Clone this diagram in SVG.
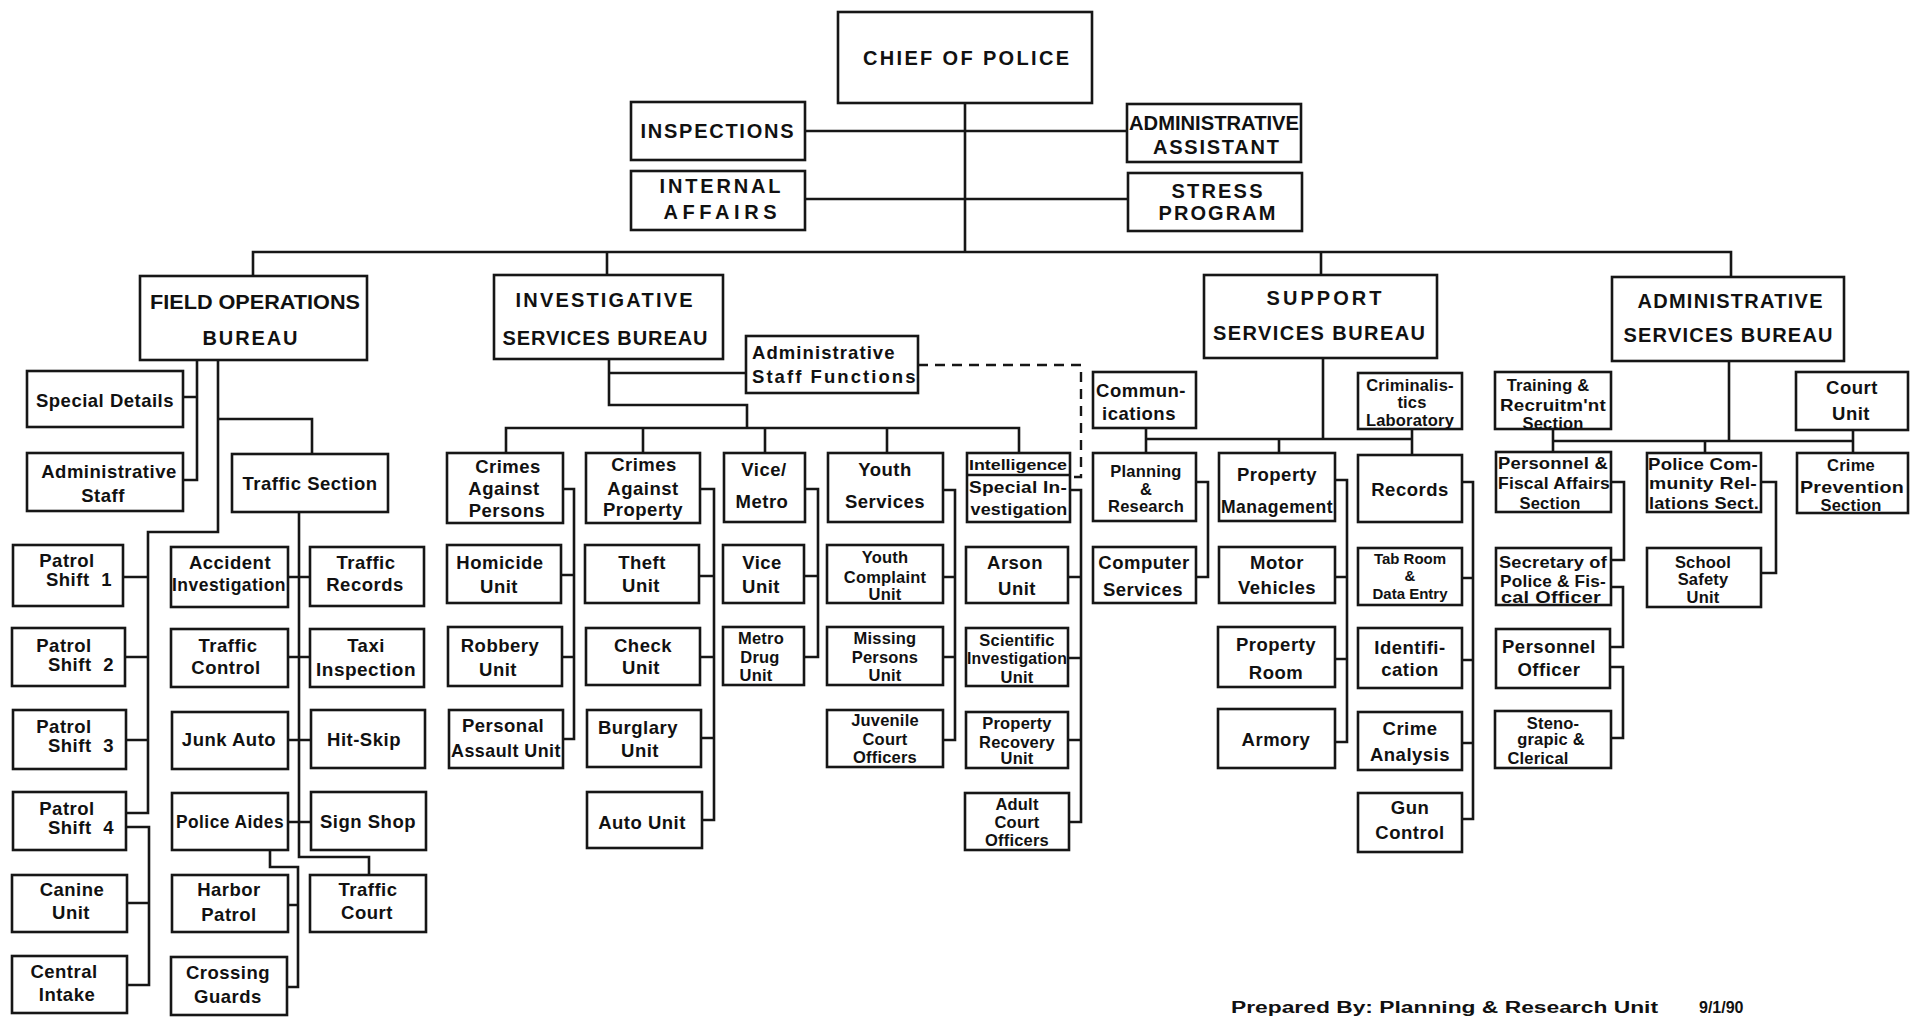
<svg xmlns="http://www.w3.org/2000/svg" width="1916" height="1017" viewBox="0 0 1916 1017">
<style>
.b{fill:#fff;stroke:#161616;stroke-width:2.6}
.c{fill:none;stroke:#161616;stroke-width:2.6}
.d{fill:none;stroke:#161616;stroke-width:2.4;stroke-dasharray:10 7}
text{font-family:"Liberation Sans",Arial,sans-serif;font-weight:bold;fill:#111;text-anchor:middle}
.H{font-size:20px}
.F{font-size:16px}
.t{font-size:18.5px;letter-spacing:0.5px}
.s{font-size:16.5px;letter-spacing:0.2px}
.x{font-size:15px}
.w{word-spacing:6px}
.l{text-anchor:start}
</style>
<rect x="0" y="0" width="1916" height="1017" fill="#fff"/>

<g id="connectors">
<path class="c" d="M965,103V252M805,131H1127M805,199H1128M253,275V252H1731V277M607,252V275M1321,252V275"/>
<path class="c" d="M197,360V480H183M183,397H197M218,360V532H148V813H126M123,577H148M125,657H148M126,740H148M218,419H312V454M126,827H149V985H127M127,903H149"/>
<path class="c" d="M299,512V857H369V875M288,577H310M288,657H310M288,740H311M288,822H311M270,850V867H298V987H287M288,905H298"/>
<path class="c" d="M609,359V405H747V428M609,373H746M506,453V428H1019V453M643,428V453M765,428V453M887,428V453"/>
<path class="d" d="M918,365H1081V477H1070"/>
<path class="c" d="M563,489H574V739H563M561,575H574M562,657H574M700,489H714V820H702M699,576H714M700,657H714M701,738H714M805,489H818V657H804M804,576H818M943,490H955V740H943M943,577H955M943,657H955M1070,490H1081V822H1069M1068,577H1081M1068,658H1081M1068,740H1081"/>
<path class="c" d="M1323,358V439M1146,428V453M1146,439H1412M1279,439V453M1412,429V455M1196,482H1208V577H1196M1335,480H1347V742H1335M1335,577H1347M1335,659H1347M1462,482H1473V819H1462M1462,578H1473M1462,660H1473M1462,743H1473"/>
<path class="c" d="M1729,361V441M1553,429V452M1553,441H1853M1853,430V453M1705,441V453M1611,482H1624V560H1611M1611,587H1623V647H1610M1610,667H1623V738H1611M1761,482H1776V573H1761"/>
</g>

<g id="chief"><rect class="b" x="838" y="12" width="254" height="91"/><text class="H" x="966" y="65" textLength="206" lengthAdjust="spacing">CHIEF OF POLICE</text></g>
<g id="inspections"><rect class="b" x="631" y="102" width="174" height="58"/><text class="H" x="717" y="138" textLength="153" lengthAdjust="spacing">INSPECTIONS</text></g>
<g id="internal-affairs"><rect class="b" x="631" y="171" width="174" height="59"/><text class="H" x="720" y="193" textLength="121" lengthAdjust="spacing">INTERNAL</text><text class="H" x="720" y="219" textLength="113" lengthAdjust="spacing">AFFAIRS</text></g>
<g id="admin-assistant"><rect class="b" x="1127" y="104" width="174" height="58"/><text class="H" x="1214" y="130" textLength="170" lengthAdjust="spacingAndGlyphs">ADMINISTRATIVE</text><text class="H" x="1216" y="154" textLength="126" lengthAdjust="spacing">ASSISTANT</text></g>
<g id="stress-program"><rect class="b" x="1128" y="173" width="174" height="58"/><text class="H" x="1217" y="198" textLength="91" lengthAdjust="spacing">STRESS</text><text class="H" x="1217" y="220" textLength="117" lengthAdjust="spacing">PROGRAM</text></g>

<g id="field-operations"><rect class="b" x="140" y="276" width="227" height="84"/><text class="H" x="255" y="309" textLength="210" lengthAdjust="spacingAndGlyphs">FIELD OPERATIONS</text><text class="H" x="250" y="345" textLength="95" lengthAdjust="spacing">BUREAU</text></g>
<g id="investigative"><rect class="b" x="494" y="275" width="229" height="84"/><text class="H" x="604" y="307" textLength="177" lengthAdjust="spacing">INVESTIGATIVE</text><text class="H" x="605" y="345" textLength="205" lengthAdjust="spacing">SERVICES BUREAU</text></g>
<g id="support"><rect class="b" x="1204" y="275" width="233" height="83"/><text class="H" x="1324" y="305" textLength="115" lengthAdjust="spacing">SUPPORT</text><text class="H" x="1319" y="340" textLength="212" lengthAdjust="spacing">SERVICES BUREAU</text></g>
<g id="admin-services"><rect class="b" x="1612" y="277" width="232" height="84"/><text class="H" x="1730" y="308" textLength="185" lengthAdjust="spacing">ADMINISTRATIVE</text><text class="H" x="1728" y="342" textLength="209" lengthAdjust="spacing">SERVICES BUREAU</text></g>

<g id="special-details"><rect class="b" x="27" y="371" width="156" height="56"/><text class="t" x="105" y="407">Special Details</text></g>
<g id="administrative-staff"><rect class="b" x="27" y="453" width="156" height="58"/><text class="t" x="109" y="478">Administrative</text><text class="t" x="103" y="502">Staff</text></g>
<g id="traffic-section"><rect class="b" x="232" y="454" width="156" height="58"/><text class="t" x="310" y="490">Traffic Section</text></g>
<g id="patrol-1"><rect class="b" x="13" y="545" width="110" height="61"/><text class="t" x="67" y="567">Patrol</text><text class="t w" x="79" y="586">Shift 1</text></g>
<g id="patrol-2"><rect class="b" x="12" y="628" width="113" height="58"/><text class="t" x="64" y="652">Patrol</text><text class="t w" x="81" y="671">Shift 2</text></g>
<g id="patrol-3"><rect class="b" x="13" y="710" width="113" height="59"/><text class="t" x="64" y="733">Patrol</text><text class="t w" x="81" y="752">Shift 3</text></g>
<g id="patrol-4"><rect class="b" x="13" y="792" width="113" height="58"/><text class="t" x="67" y="815">Patrol</text><text class="t w" x="81" y="834">Shift 4</text></g>
<g id="canine"><rect class="b" x="12" y="875" width="115" height="57"/><text class="t" x="72" y="896">Canine</text><text class="t" x="71" y="919">Unit</text></g>
<g id="central-intake"><rect class="b" x="12" y="956" width="115" height="57"/><text class="t" x="64" y="978">Central</text><text class="t" x="67" y="1001">Intake</text></g>
<g id="accident"><rect class="b" x="171" y="547" width="117" height="60"/><text class="t" x="230" y="569">Accident</text><text class="t" x="229" y="591" textLength="114" lengthAdjust="spacingAndGlyphs">Investigation</text></g>
<g id="traffic-records"><rect class="b" x="310" y="547" width="114" height="59"/><text class="t" x="366" y="569">Traffic</text><text class="t" x="365" y="591">Records</text></g>
<g id="traffic-control"><rect class="b" x="171" y="629" width="117" height="58"/><text class="t" x="228" y="652">Traffic</text><text class="t" x="226" y="674">Control</text></g>
<g id="taxi"><rect class="b" x="310" y="629" width="114" height="58"/><text class="t" x="366" y="652">Taxi</text><text class="t" x="366" y="676" textLength="100" lengthAdjust="spacingAndGlyphs">Inspection</text></g>
<g id="junk-auto"><rect class="b" x="172" y="712" width="116" height="57"/><text class="t" x="229" y="746">Junk Auto</text></g>
<g id="hit-skip"><rect class="b" x="311" y="710" width="114" height="58"/><text class="t" x="364" y="746">Hit-Skip</text></g>
<g id="police-aides"><rect class="b" x="172" y="793" width="116" height="57"/><text class="t" x="230" y="828" textLength="108" lengthAdjust="spacingAndGlyphs">Police Aides</text></g>
<g id="sign-shop"><rect class="b" x="311" y="792" width="115" height="58"/><text class="t" x="368" y="828">Sign Shop</text></g>
<g id="harbor"><rect class="b" x="172" y="875" width="116" height="57"/><text class="t" x="229" y="896">Harbor</text><text class="t" x="229" y="921">Patrol</text></g>
<g id="crossing"><rect class="b" x="171" y="957" width="116" height="58"/><text class="t" x="228" y="979">Crossing</text><text class="t" x="228" y="1003">Guards</text></g>
<g id="traffic-court"><rect class="b" x="310" y="875" width="116" height="57"/><text class="t" x="368" y="896">Traffic</text><text class="t" x="367" y="919">Court</text></g>

<g id="admin-staff-functions"><rect class="b" x="746" y="336" width="172" height="57"/><text class="t l" x="752" y="359" textLength="143" lengthAdjust="spacing">Administrative</text><text class="t l" x="752" y="383" textLength="164" lengthAdjust="spacing">Staff Functions</text></g>
<g id="crimes-persons"><rect class="b" x="447" y="453" width="116" height="70"/><text class="t" x="508" y="473">Crimes</text><text class="t" x="504" y="495">Against</text><text class="t" x="507" y="517">Persons</text></g>
<g id="crimes-property"><rect class="b" x="586" y="453" width="114" height="70"/><text class="t" x="644" y="471">Crimes</text><text class="t" x="643" y="495">Against</text><text class="t" x="643" y="516">Property</text></g>
<g id="vice-metro"><rect class="b" x="724" y="453" width="81" height="69"/><text class="t" x="764" y="476">Vice/</text><text class="t" x="762" y="508">Metro</text></g>
<g id="youth-services"><rect class="b" x="828" y="453" width="115" height="69"/><text class="t" x="885" y="476">Youth</text><text class="t" x="885" y="508">Services</text></g>
<g id="intelligence"><rect class="b" x="967" y="453" width="103" height="69"/><line class="c" x1="967" y1="475" x2="1070" y2="475"/><text class="x" x="1018" y="470" textLength="98" lengthAdjust="spacingAndGlyphs">Intelligence</text><text class="s" x="1018" y="493" textLength="98" lengthAdjust="spacingAndGlyphs">Special In-</text><text class="s" x="1019" y="515" textLength="97" lengthAdjust="spacingAndGlyphs">vestigation</text></g>
<g id="homicide"><rect class="b" x="447" y="545" width="114" height="58"/><text class="t" x="500" y="569">Homicide</text><text class="t" x="499" y="593">Unit</text></g>
<g id="robbery"><rect class="b" x="448" y="627" width="114" height="59"/><text class="t" x="500" y="652">Robbery</text><text class="t" x="498" y="676">Unit</text></g>
<g id="personal-assault"><rect class="b" x="449" y="710" width="114" height="58"/><text class="t" x="503" y="732">Personal</text><text class="t" x="506" y="757" textLength="110" lengthAdjust="spacingAndGlyphs">Assault Unit</text></g>
<g id="theft"><rect class="b" x="585" y="545" width="114" height="58"/><text class="t" x="642" y="569">Theft</text><text class="t" x="641" y="592">Unit</text></g>
<g id="check"><rect class="b" x="586" y="628" width="114" height="57"/><text class="t" x="643" y="652">Check</text><text class="t" x="641" y="674">Unit</text></g>
<g id="burglary"><rect class="b" x="587" y="710" width="114" height="57"/><text class="t" x="638" y="734">Burglary</text><text class="t" x="640" y="757">Unit</text></g>
<g id="auto-unit"><rect class="b" x="587" y="792" width="115" height="56"/><text class="t" x="642" y="829">Auto Unit</text></g>
<g id="vice-unit"><rect class="b" x="723" y="545" width="81" height="58"/><text class="t" x="762" y="569">Vice</text><text class="t" x="761" y="593">Unit</text></g>
<g id="metro-drug"><rect class="b" x="723" y="627" width="81" height="58"/><text class="s" x="761" y="644">Metro</text><text class="s" x="760" y="663">Drug</text><text class="s" x="756" y="681">Unit</text></g>
<g id="youth-complaint"><rect class="b" x="827" y="545" width="116" height="58"/><text class="s" x="885" y="563">Youth</text><text class="s" x="885" y="583">Complaint</text><text class="s" x="885" y="600">Unit</text></g>
<g id="missing-persons"><rect class="b" x="827" y="627" width="116" height="58"/><text class="s" x="885" y="644">Missing</text><text class="s" x="885" y="663">Persons</text><text class="s" x="885" y="681">Unit</text></g>
<g id="juvenile-court"><rect class="b" x="827" y="710" width="116" height="57"/><text class="s" x="885" y="726">Juvenile</text><text class="s" x="885" y="745">Court</text><text class="s" x="885" y="763">Officers</text></g>
<g id="arson"><rect class="b" x="966" y="547" width="102" height="56"/><text class="t" x="1015" y="569">Arson</text><text class="t" x="1017" y="595">Unit</text></g>
<g id="scientific"><rect class="b" x="966" y="628" width="102" height="58"/><text class="s" x="1017" y="646">Scientific</text><text class="s" x="1017" y="664" textLength="100" lengthAdjust="spacingAndGlyphs">Investigation</text><text class="s" x="1017" y="683">Unit</text></g>
<g id="property-recovery"><rect class="b" x="966" y="712" width="102" height="56"/><text class="s" x="1017" y="729">Property</text><text class="s" x="1017" y="748">Recovery</text><text class="s" x="1017" y="764">Unit</text></g>
<g id="adult-court"><rect class="b" x="965" y="793" width="104" height="57"/><text class="s" x="1017" y="810">Adult</text><text class="s" x="1017" y="828">Court</text><text class="s" x="1017" y="846">Officers</text></g>

<g id="communications"><rect class="b" x="1093" y="372" width="103" height="56"/><text class="t" x="1141" y="397">Commun-</text><text class="t" x="1139" y="420">ications</text></g>
<g id="criminalistics"><rect class="b" x="1358" y="373" width="104" height="56"/><text class="s" x="1410" y="391">Criminalis-</text><text class="s" x="1412" y="408">tics</text><text class="s" x="1410" y="426">Laboratory</text></g>
<g id="planning"><rect class="b" x="1093" y="453" width="103" height="68"/><text class="s" x="1146" y="477">Planning</text><text class="s" x="1146" y="495">&amp;</text><text class="s" x="1146" y="512">Research</text></g>
<g id="computer"><rect class="b" x="1093" y="547" width="103" height="56"/><text class="t" x="1144" y="569">Computer</text><text class="t" x="1143" y="596">Services</text></g>
<g id="property-management"><rect class="b" x="1219" y="453" width="116" height="68"/><text class="t" x="1277" y="481">Property</text><text class="t" x="1277" y="513" textLength="112" lengthAdjust="spacingAndGlyphs">Management</text></g>
<g id="motor-vehicles"><rect class="b" x="1219" y="547" width="116" height="56"/><text class="t" x="1277" y="569">Motor</text><text class="t" x="1277" y="594">Vehicles</text></g>
<g id="property-room"><rect class="b" x="1218" y="627" width="117" height="60"/><text class="t" x="1276" y="651">Property</text><text class="t" x="1276" y="679">Room</text></g>
<g id="armory"><rect class="b" x="1218" y="709" width="117" height="59"/><text class="t" x="1276" y="746">Armory</text></g>
<g id="records"><rect class="b" x="1358" y="455" width="104" height="67"/><text class="t" x="1410" y="496">Records</text></g>
<g id="tab-room"><rect class="b" x="1358" y="548" width="104" height="57"/><text class="x" x="1410" y="564">Tab Room</text><text class="x" x="1410" y="581">&amp;</text><text class="x" x="1410" y="599">Data Entry</text></g>
<g id="identification"><rect class="b" x="1358" y="628" width="104" height="60"/><text class="t" x="1410" y="654">Identifi-</text><text class="t" x="1410" y="676">cation</text></g>
<g id="crime-analysis"><rect class="b" x="1358" y="712" width="104" height="58"/><text class="t" x="1410" y="735">Crime</text><text class="t" x="1410" y="761">Analysis</text></g>
<g id="gun-control"><rect class="b" x="1358" y="793" width="104" height="59"/><text class="t" x="1410" y="814">Gun</text><text class="t" x="1410" y="839">Control</text></g>

<g id="training"><rect class="b" x="1495" y="372" width="116" height="57"/><text class="s" x="1548" y="391">Training &amp;</text><text class="s" x="1553" y="411" textLength="106" lengthAdjust="spacingAndGlyphs">Recruitm'nt</text><text class="s" x="1553" y="429">Section</text></g>
<g id="court-unit"><rect class="b" x="1796" y="372" width="112" height="58"/><text class="t" x="1852" y="394">Court</text><text class="t" x="1851" y="420">Unit</text></g>
<g id="personnel-fiscal"><rect class="b" x="1496" y="452" width="115" height="60"/><text class="s" x="1553" y="469" textLength="110" lengthAdjust="spacingAndGlyphs">Personnel &amp;</text><text class="s" x="1554" y="489" textLength="112" lengthAdjust="spacingAndGlyphs">Fiscal Affairs</text><text class="s" x="1550" y="509">Section</text></g>
<g id="community-relations"><rect class="b" x="1647" y="453" width="114" height="59"/><text class="s" x="1703" y="470" textLength="110" lengthAdjust="spacingAndGlyphs">Police Com-</text><text class="s" x="1703" y="489" textLength="108" lengthAdjust="spacingAndGlyphs">munity Rel-</text><text class="s" x="1704" y="509" textLength="110" lengthAdjust="spacingAndGlyphs">lations Sect.</text></g>
<g id="crime-prevention"><rect class="b" x="1797" y="453" width="111" height="60"/><text class="s" x="1851" y="471">Crime</text><text class="s" x="1852" y="493" textLength="104" lengthAdjust="spacingAndGlyphs">Prevention</text><text class="s" x="1851" y="511">Section</text></g>
<g id="secretary"><rect class="b" x="1496" y="548" width="115" height="57"/><text class="s" x="1553" y="568" textLength="108" lengthAdjust="spacingAndGlyphs">Secretary of</text><text class="s" x="1553" y="587" textLength="106" lengthAdjust="spacingAndGlyphs">Police &amp; Fis-</text><text class="s" x="1551" y="603" textLength="100" lengthAdjust="spacingAndGlyphs">cal Officer</text></g>
<g id="school-safety"><rect class="b" x="1647" y="548" width="114" height="59"/><text class="s" x="1703" y="568">School</text><text class="s" x="1703" y="585">Safety</text><text class="s" x="1703" y="603">Unit</text></g>
<g id="personnel-officer"><rect class="b" x="1496" y="629" width="114" height="59"/><text class="t" x="1549" y="653">Personnel</text><text class="t" x="1549" y="676">Officer</text></g>
<g id="steno"><rect class="b" x="1495" y="711" width="116" height="57"/><text class="s" x="1553" y="729">Steno-</text><text class="s" x="1551" y="745">grapic &amp;</text><text class="s" x="1538" y="764">Clerical</text></g>

<g id="footer"><text class="F l" x="1231" y="1013" textLength="427" lengthAdjust="spacingAndGlyphs">Prepared By: Planning &amp; Research Unit</text><text class="F l" x="1699" y="1013">9/1/90</text></g>
</svg>
